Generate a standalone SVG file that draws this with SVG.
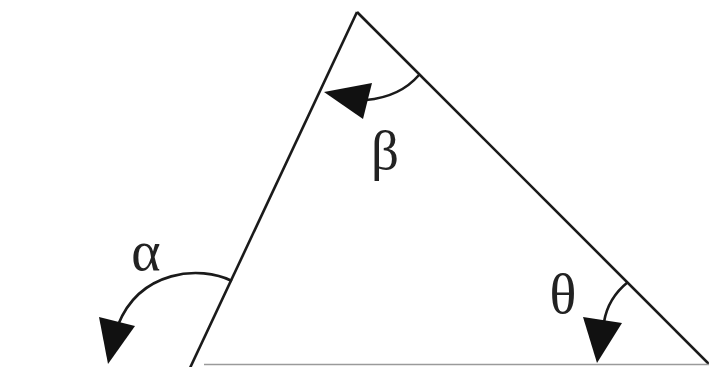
<svg xmlns="http://www.w3.org/2000/svg" width="709" height="367" viewBox="0 0 709 367">
<style>
.edge{stroke:#1a1a1a;stroke-width:2.6;fill:none;stroke-linecap:butt}
.arc{stroke:#1a1a1a;stroke-width:2.6;fill:none}
.head{fill:#111}
.lbl{font-family:"Liberation Serif","DejaVu Serif",serif;fill:#222;text-anchor:middle}
</style>
<rect width="709" height="367" fill="#fff"/>
<g id="connectors">
<line class="edge" x1="357" y1="12" x2="190" y2="368"/>
<line class="edge" x1="357" y1="12" x2="709" y2="364"/>
<line x1="204" y1="364.5" x2="709" y2="364.5" stroke="#9a9a9a" stroke-width="1.5"/>
</g>
<g id="beta">
<path class="arc" d="M419,75 Q400,97 366,100"/>
<polygon class="head" points="324,92 372,83 363,119"/>
<text class="lbl" x="385" y="169" font-size="55">β</text>
</g>
<g id="alpha">
<path class="arc" d="M232,281 C200,265 140,270 118,325"/>
<polygon class="head" points="108,364 99,317 135,326"/>
<text class="lbl" x="146" y="270" font-size="56">α</text>
</g>
<g id="theta">
<path class="arc" d="M628,282 Q608,298 604,322"/>
<polygon class="head" points="597,363 583,317 622,323"/>
<text class="lbl" x="563" y="313" font-size="56">θ</text>
</g>
</svg>
